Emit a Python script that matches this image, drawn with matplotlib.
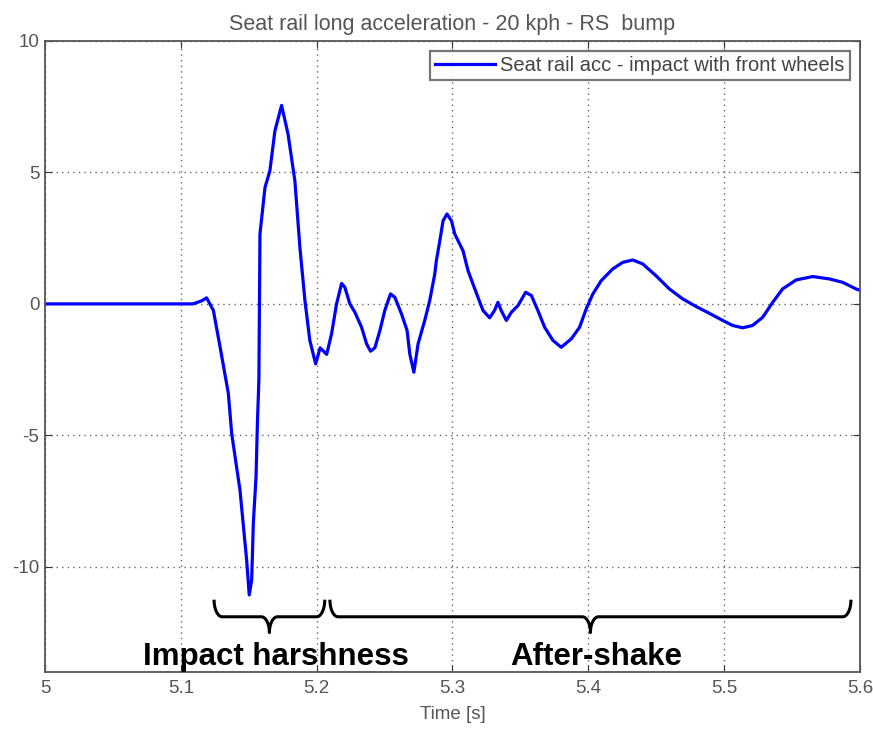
import numpy as np
import matplotlib.pyplot as plt

plt.rcParams['font.family'] = ['Liberation Sans', 'DejaVu Sans']
plt.rcParams['axes.unicode_minus'] = False

# acceleration trace, read point by point
t = [5.000, 5.050, 5.109, 5.1155, 5.119, 5.124, 5.129, 5.135, 5.1375, 5.1436,
     5.1485, 5.1504, 5.1522, 5.1534, 5.1554, 5.1564, 5.1575, 5.1583, 5.162,
     5.1656, 5.1693, 5.1742, 5.179, 5.184, 5.1877, 5.1914, 5.195, 5.1993,
     5.2026, 5.2074, 5.211, 5.2147, 5.2184, 5.2208, 5.2245, 5.2282, 5.2331,
     5.2368, 5.2397, 5.2429, 5.2466, 5.2502, 5.2544, 5.2576, 5.2625, 5.2666,
     5.2686, 5.2716, 5.2747, 5.2796, 5.2833, 5.287, 5.2882, 5.2907, 5.2931,
     5.296, 5.2993, 5.3017, 5.3078, 5.3115, 5.3151, 5.3188, 5.3225, 5.3274,
     5.331, 5.3335, 5.3359, 5.3397, 5.3434, 5.3483, 5.3539, 5.3581, 5.3629,
     5.3679, 5.374, 5.3801, 5.3875, 5.3936, 5.3985, 5.4034, 5.4095, 5.418,
     5.4254, 5.4328, 5.4401, 5.4499, 5.4597, 5.4695, 5.4794, 5.4892, 5.499,
     5.5063, 5.5137, 5.521, 5.5284, 5.5358, 5.5431, 5.553, 5.5652, 5.5775,
     5.5873, 5.5971, 5.600]
acc = [0.0, 0.0, 0.0, 0.12, 0.23, -0.25, -1.66, -3.4, -4.94, -7.09,
       -9.75, -11.07, -10.5, -8.35, -6.58, -4.56, -2.9, 2.66, 4.43,
       5.06, 6.58, 7.55, 6.45, 4.68, 2.15, 0.13, -1.39, -2.28,
       -1.67, -1.92, -1.14, 0.0, 0.78, 0.63, 0.0, -0.32, -0.89,
       -1.52, -1.8, -1.67, -1.01, -0.25, 0.38, 0.25, -0.38, -1.01,
       -1.9, -2.6, -1.52, -0.63, 0.13, 1.14, 1.65, 2.4, 3.16,
       3.42, 3.16, 2.66, 2.02, 1.26, 0.76, 0.25, -0.25, -0.53,
       -0.25, 0.06, -0.25, -0.63, -0.32, -0.06, 0.44, 0.32, -0.25,
       -0.89, -1.39, -1.65, -1.33, -0.89, -0.19, 0.38, 0.88, 1.33,
       1.58, 1.67, 1.52, 1.07, 0.57, 0.19, -0.10, -0.36, -0.63,
       -0.82, -0.91, -0.82, -0.51, 0.06, 0.57, 0.91, 1.04, 0.95,
       0.82, 0.57, 0.52]

x_ticks = [5.0, 5.1, 5.2, 5.3, 5.4, 5.5, 5.6]
x_tick_labels = ['5', '5.1', '5.2', '5.3', '5.4', '5.5', '5.6']
y_ticks = [-10, -5, 0, 5, 10]

# phases marked under the trace: (start, end, label)
phases = [(5.1245, 5.206, 'Impact harshness'),
          (5.2098, 5.5934, 'After-shake')]

fig = plt.figure(figsize=(8.73, 7.29), dpi=100)
ax = fig.add_axes([0.0515, 0.0782, 0.9335, 0.8656])

ax.plot(t, acc, color='#0000ff', lw=2.3, solid_joinstyle='round',
        label='Seat rail acc - impact with front wheels')

ax.set_xlim(5.0, 5.6)
ax.set_ylim(-14, 10)
ax.set_xticks(x_ticks)
ax.set_xticklabels(x_tick_labels)
ax.set_yticks(y_ticks)
ax.grid(True, color='#666666', linestyle=(0, (1, 3)), lw=1.0)
ax.tick_params(direction='in', top=True, right=True, length=5,
               colors='#333333', labelcolor='#555555', labelsize=13.5)
ax.tick_params(axis='x', pad=6)
ax.tick_params(axis='y', pad=4)
for sp in ax.spines.values():
    sp.set_color('#555555')
    sp.set_linewidth(1.3)

ax.set_title('Seat rail long acceleration - 20 kph - RS  bump',
             fontsize=15.5, color='#555555', pad=8)
ax.set_xlabel('Time [s]', fontsize=13.5, color='#555555', labelpad=6)

leg = ax.legend(loc='upper right', fontsize=14.5, handlelength=3.0,
                borderaxespad=0.5, fancybox=False, handletextpad=0.25,
                borderpad=0.25)
leg.get_frame().set_edgecolor('#555555')
leg.get_frame().set_linewidth(1.6)
for txt in leg.get_texts():
    txt.set_color('#444444')

# curly brackets under each phase
for x0, x1, name in phases:
    xm = (x0 + x1) / 2
    r = 0.006
    s = np.linspace(0, np.pi / 2, 20)
    ytop, ymid, ytip = -11.25, -11.9, -12.5
    # end hooks
    lx = x0 + r - r * np.cos(s)
    ly = ymid + (ytop - ymid) * (1 - np.sin(s))
    rx = x1 - r + r * np.cos(s)
    # centre tip
    bx = np.concatenate([xm - r + r * np.sin(s), xm + r - r * np.sin(s[::-1])])
    by = np.concatenate([ymid + (ytip - ymid) * (1 - np.cos(s)),
                         ymid + (ytip - ymid) * (1 - np.cos(s[::-1]))])
    px = np.concatenate([lx, bx, rx[::-1]])
    py = np.concatenate([ly, by, ly[::-1]])
    ax.plot(px, py, color='black', lw=2.2, solid_capstyle='butt')
    ax.text(xm + 0.005 if name.startswith('I') else xm + 0.004, -13.75, name,
            ha='center', va='baseline', fontsize=22.5, fontweight='bold',
            color='black')

fig.savefig('out.png', dpi=100)
